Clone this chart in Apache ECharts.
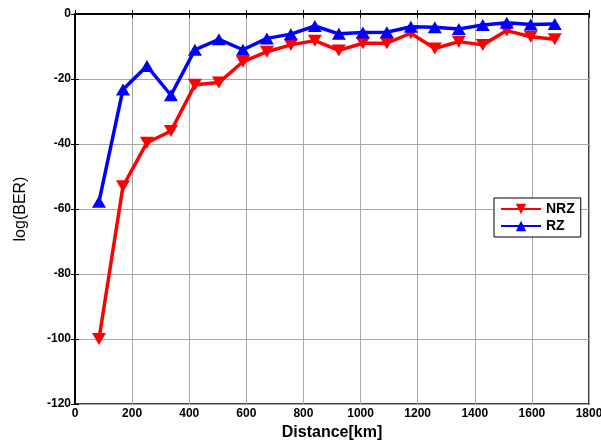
<!DOCTYPE html>
<html><head><meta charset="utf-8">
<script src="https://cdn.jsdelivr.net/npm/echarts@6/dist/echarts.min.js"></script>
<style>html,body{margin:0;padding:0;background:#fff}#c{width:601px;height:440px}</style>
</head><body><div id="c"></div>
<script>
var distance = [84,168,252,336,420,504,588,672,756,840,924,1008,1092,1176,1260,1344,1428,1512,1596,1680];
var nrz = [-100,-53,-39.6,-36,-21.8,-21.1,-14.7,-11.6,-9.5,-8.2,-11.2,-9,-9,-5.9,-10.6,-8.5,-9.5,-5.1,-7,-7.8];
var rz = [-57.8,-23.2,-16,-25,-11,-7.8,-11,-7.5,-6.2,-3.7,-6.1,-5.7,-5.6,-3.9,-4.1,-4.6,-3.4,-2.7,-3.2,-3.1];
var seriesNames = ['NRZ','RZ'];
function pairs(xs, ys){ return xs.map(function(x,i){return [x, ys[i]];}); }
var font = 'Liberation Sans, Arial, sans-serif';
var chart = echarts.init(document.getElementById('c'), null, {renderer:'canvas'});
var gridLine = {show:true, lineStyle:{color:'#a8a8a8', width:1}};
function plain(v){ return String(v); }
chart.setOption({
  animation:false,
  grid:{left:75,right:12,top:14,bottom:36,show:true,borderColor:'#000',borderWidth:1.5,backgroundColor:'transparent',containLabel:false,outerBoundsMode:'none'},
  legend:{
    orient:'vertical', left:494, top:198, width:87,
    data:seriesNames, itemWidth:40, itemHeight:13, itemGap:3,
    borderColor:'#000', borderWidth:1, padding:[4,6,4,6], backgroundColor:'#fff',
    textStyle:{fontFamily:font, fontWeight:'bold', fontSize:14, color:'#000'}
  },
  xAxis:[{
    type:'value', min:0, max:1800, interval:200,
    name:'Distance[km]', nameLocation:'middle', nameGap:20,
    nameTextStyle:{fontFamily:font, fontWeight:'bold', fontSize:16, color:'#000'},
    axisLine:{show:true, lineStyle:{color:'#000', width:1.5}},
    axisTick:{show:true, inside:true, length:4, lineStyle:{color:'#000'}},
    axisLabel:{fontFamily:font, fontWeight:'bold', fontSize:12, color:'#000', margin:4, formatter:plain},
    splitLine:gridLine
  },{
    type:'value', min:0, max:1800, interval:200, position:'top',
    axisLine:{show:true, lineStyle:{color:'#000', width:1.5}},
    axisTick:{show:true, inside:true, length:4, lineStyle:{color:'#000'}},
    axisLabel:{show:false}, splitLine:{show:false}
  }],
  yAxis:[{
    type:'value', min:-120, max:0, interval:20,
    name:'log(BER)', nameLocation:'middle', nameGap:46,
    nameTextStyle:{fontFamily:font, fontSize:16, color:'#000'},
    axisLine:{show:true, lineStyle:{color:'#000', width:1.5}},
    axisTick:{show:true, inside:true, length:4, lineStyle:{color:'#000'}},
    axisLabel:{fontFamily:font, fontWeight:'bold', fontSize:12, color:'#000', margin:4, formatter:plain},
    splitLine:gridLine
  },{
    type:'value', min:-120, max:0, interval:20, position:'right',
    axisLine:{show:true, lineStyle:{color:'#000', width:1.5}},
    axisTick:{show:true, inside:true, length:4, lineStyle:{color:'#000'}},
    axisLabel:{show:false}, splitLine:{show:false}
  }],
  series:[{
    name:seriesNames[0], type:'line', data:pairs(distance,nrz),
    symbol:'triangle', symbolRotate:180, symbolSize:[14,12], showAllSymbol:true,
    lineStyle:{color:'#ff0000', width:3.5}, itemStyle:{color:'#ff0000'}, z:2
  },{
    name:seriesNames[1], type:'line', data:pairs(distance,rz),
    symbol:'triangle', symbolSize:[14,12], showAllSymbol:true,
    lineStyle:{color:'#0000ff', width:3.5}, itemStyle:{color:'#0000ff'}, z:3
  }]
});
</script></body></html>
